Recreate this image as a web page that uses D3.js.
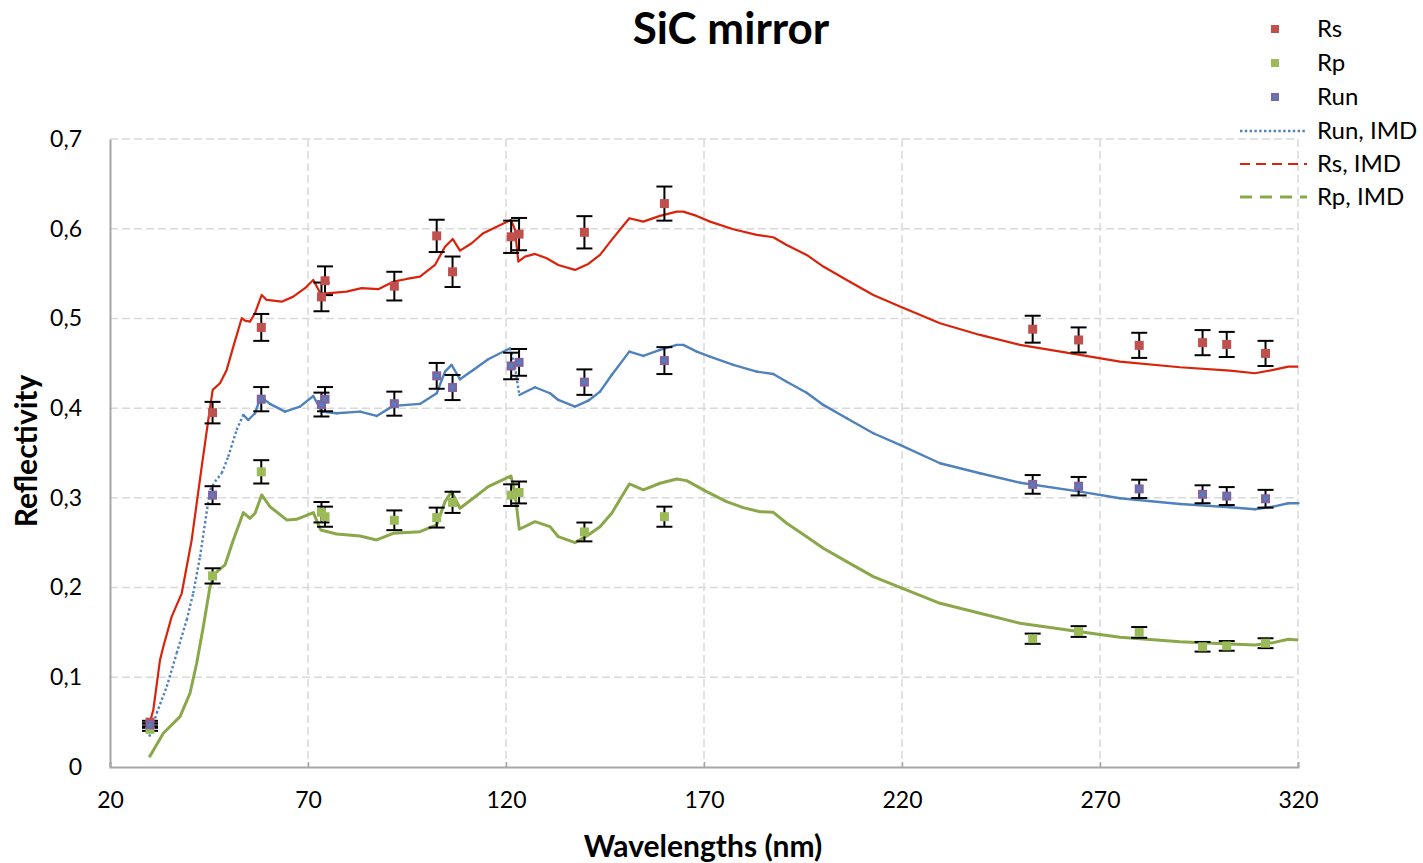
<!DOCTYPE html>
<html>
<head>
<meta charset="utf-8">
<script src="https://cdn.jsdelivr.net/npm/d3@7"></script>
<style>
  body { margin: 0; background: #fff; }
  svg text { font-family: Lato, "Open Sans", sans-serif; fill: #000; }
</style>
</head>
<body>
<div class="chart"></div>
<script>

// measured wavelengths (nm)
var wavelengths = [30.1, 45.9, 58.2, 73.4, 74.3, 91.8, 102.5, 106.5, 121.3, 123.3, 139.8, 160.0, 253.0, 264.6, 279.9, 295.9, 302.0, 311.8];

var rsValues  = [0.050, 0.395, 0.490, 0.524, 0.542, 0.536, 0.592, 0.552, 0.591, 0.594, 0.596, 0.628, 0.488, 0.476, 0.470, 0.473, 0.471, 0.461];
var rsErr     = [0.0015, 0.012, 0.015, 0.016, 0.016, 0.016, 0.018, 0.017, 0.018, 0.018, 0.018, 0.019, 0.015, 0.014, 0.014, 0.014, 0.014, 0.014];

var rpValues  = [0.042, 0.213, 0.329, 0.284, 0.279, 0.275, 0.278, 0.295, 0.303, 0.306, 0.262, 0.279, 0.143, 0.151, 0.150, 0.134, 0.135, 0.138];
var rpErr     = [0.0017, 0.0085, 0.013, 0.0114, 0.0112, 0.011, 0.0111, 0.0118, 0.0121, 0.0122, 0.0105, 0.0112, 0.0057, 0.006, 0.006, 0.0054, 0.0054, 0.0055];

var runValues = [0.047, 0.303, 0.410, 0.404, 0.410, 0.405, 0.436, 0.423, 0.447, 0.451, 0.429, 0.453, 0.315, 0.313, 0.310, 0.304, 0.302, 0.299];
var runErr    = [0.0016, 0.010, 0.0135, 0.0133, 0.0135, 0.0134, 0.0144, 0.014, 0.0148, 0.0149, 0.0142, 0.015, 0.0104, 0.0103, 0.0102, 0.010, 0.010, 0.0099];

// IMD simulations [nm, reflectivity]
var rsIMD = [[30.28,0.0532],[30.93,0.0635],[32.63,0.1193],[33.46,0.1341],[35.58,0.1676],[38.11,0.1936],[40.63,0.2531],[43.16,0.3348],[44.82,0.3868],[45.93,0.4203],[47.78,0.4278],[49.47,0.4426],[51.14,0.4686],[53.26,0.5002],[54.09,0.4976],[55.35,0.4964],[56.62,0.5058],[58.31,0.5262],[59.57,0.5206],[61.24,0.5198],[63.36,0.5187],[66.29,0.5243],[69.24,0.5337],[71.34,0.5429],[73.21,0.5273],[79.75,0.5299],[83.54,0.5337],[87.75,0.5326],[91.54,0.5410],[94.92,0.5440],[98.28,0.5466],[102.07,0.5596],[104.60,0.5800],[106.54,0.5886],[108.38,0.5756],[111.34,0.5838],[114.27,0.5950],[117.65,0.6023],[121.26,0.6098],[122.27,0.5987],[123.11,0.5633],[124.80,0.5689],[127.32,0.5719],[130.28,0.5671],[133.21,0.5596],[137.42,0.5541],[140.78,0.5608],[143.74,0.5708],[146.69,0.5875],[151.14,0.6117],[154.67,0.6079],[158.89,0.6143],[163.11,0.6191],[164.77,0.6191],[168.16,0.6143],[171.52,0.6079],[177.40,0.5994],[183.31,0.5931],[187.50,0.5905],[190.88,0.5819],[195.93,0.5708],[200.13,0.5578],[206.04,0.5429],[212.75,0.5262],[219.49,0.5132],[229.60,0.4946],[239.70,0.4816],[249.80,0.4705],[264.95,0.4593],[275.05,0.4518],[290.20,0.4456],[302.83,0.4418],[309.14,0.4389],[313.76,0.4426],[317.55,0.4463],[320.08,0.4463]];

var runIMD = [[29.92,0.0338],[31.79,0.0599],[34.32,0.0895],[36.84,0.1268],[39.37,0.1639],[41.01,0.1936],[42.73,0.2344],[43.99,0.2717],[45.25,0.3088],[46.52,0.3181],[48.21,0.3274],[49.85,0.3459],[51.97,0.3757],[53.66,0.3924],[54.92,0.3868],[56.62,0.3943],[58.06,0.4128],[60.40,0.4047],[64.19,0.3961],[67.98,0.4017],[71.34,0.4136],[73.46,0.3961],[77.22,0.3943],[83.13,0.3961],[87.35,0.3913],[91.52,0.4025],[98.28,0.4047],[102.50,0.4166],[104.60,0.4407],[106.26,0.4482],[108.38,0.4322],[111.72,0.4426],[115.51,0.4545],[121.01,0.4668],[122.27,0.4463],[123.36,0.4147],[127.32,0.4233],[131.11,0.4166],[133.21,0.4091],[137.42,0.4017],[140.78,0.4083],[143.74,0.4184],[146.69,0.4370],[151.14,0.4630],[154.67,0.4582],[158.89,0.4649],[163.11,0.4705],[164.77,0.4705],[168.16,0.4630],[171.52,0.4574],[177.40,0.4482],[183.31,0.4407],[187.50,0.4381],[190.88,0.4295],[195.93,0.4172],[200.13,0.4036],[206.04,0.3887],[212.75,0.3720],[219.49,0.3590],[229.60,0.3386],[239.70,0.3274],[249.80,0.3169],[264.95,0.3069],[275.05,0.2996],[290.20,0.2932],[302.83,0.2895],[309.14,0.2873],[313.76,0.2902],[317.55,0.2940],[320.08,0.2940]];

var rpIMD = [[29.92,0.0108],[33.46,0.0376],[37.68,0.0561],[40.20,0.0822],[41.89,0.1156],[43.56,0.1564],[45.25,0.2010],[46.52,0.2159],[49.04,0.2252],[51.14,0.2531],[53.66,0.2835],[55.35,0.2772],[56.62,0.2828],[58.31,0.3032],[60.40,0.2902],[64.60,0.2754],[67.12,0.2761],[71.34,0.2835],[73.21,0.2642],[77.22,0.2598],[83.13,0.2575],[87.35,0.2531],[91.52,0.2605],[98.28,0.2623],[102.50,0.2698],[104.60,0.2958],[106.26,0.3069],[108.38,0.2884],[111.72,0.2996],[115.51,0.3125],[121.26,0.3244],[122.27,0.3051],[123.36,0.2650],[127.32,0.2735],[131.11,0.2679],[133.21,0.2567],[137.42,0.2501],[140.78,0.2586],[143.74,0.2679],[146.69,0.2828],[151.14,0.3155],[154.67,0.3088],[158.89,0.3163],[163.11,0.3211],[165.61,0.3192],[170.66,0.3069],[175.71,0.2958],[179.90,0.2891],[184.14,0.2846],[187.50,0.2839],[190.88,0.2717],[195.93,0.2567],[200.13,0.2438],[206.04,0.2289],[212.75,0.2122],[219.49,0.2003],[229.60,0.1825],[239.70,0.1713],[249.80,0.1602],[264.95,0.1508],[275.05,0.1446],[290.20,0.1397],[302.83,0.1371],[309.14,0.1360],[313.76,0.1386],[317.55,0.1424],[320.08,0.1416]];

var xTicks = [20, 70, 120, 170, 220, 270, 320];
var yTicks = [0, 0.1, 0.2, 0.3, 0.4, 0.5, 0.6, 0.7];

var legendLabels = ["Rs", "Rp", "Run", "Run, IMD", "Rs, IMD", "Rp, IMD"];

function wrapper(){

  var w = 1423, h = 863;

  var svg = d3.select("div.chart")
              .append("svg")
              .attr("width", w)
              .attr("height", h);

  var plot = {left: 110, right: 1298, top: 139, bottom: 767};

  var x = d3.scaleLinear().domain([20, 320]).range([plot.left, plot.right]);
  var y = d3.scaleLinear().domain([0, 0.7]).range([plot.bottom, plot.top]);

  var colors = {
    rs: "#c0504d", rp: "#9bbb59", run: "#8064a2", runIn: "#4f81bd",
    rsLine: "#d9230b", runLine: "#4f81bd", rpLine: "#8aa84a"
  };

  //gridlines
  var grid = svg.append("g");
  grid.selectAll(".hgrid")
      .data(yTicks.slice(1))
      .enter()
      .append("line")
        .attr("x1", plot.left).attr("x2", plot.right)
        .attr("y1", d => y(d)).attr("y2", d => y(d))
        .attr("stroke", "#d9d9d9")
        .attr("stroke-width", 1.5)
        .attr("stroke-dasharray", "8,4");
  grid.selectAll(".vgrid")
      .data(xTicks.slice(1))
      .enter()
      .append("line")
        .attr("x1", d => x(d)).attr("x2", d => x(d))
        .attr("y1", plot.top).attr("y2", plot.bottom)
        .attr("stroke", "#d9d9d9")
        .attr("stroke-width", 1.5)
        .attr("stroke-dasharray", "8,4");

  //axes
  var xAxis = svg.append("g")
      .attr("transform", `translate(0,${plot.bottom})`)
      .call(d3.axisBottom(x).tickValues(xTicks).tickSize(-5).tickPadding(25));
  var yAxis = svg.append("g")
      .attr("transform", `translate(${plot.left},0)`)
      .call(d3.axisLeft(y).tickValues(yTicks).tickSize(0).tickPadding(28)
               .tickFormat(d => d === 0 ? "0" : d3.format(".1f")(d).replace(".", ",")));

  [xAxis, yAxis].forEach(function(a){
    a.select(".domain").attr("stroke", "#a6a6a6").attr("stroke-width", 2);
    a.selectAll(".tick line").attr("stroke", "#a6a6a6").attr("stroke-width", 1.5);
    a.selectAll(".tick text").attr("font-size", 23).attr("font-family", "Lato, sans-serif").attr("fill", "#000");
  });

  //IMD lines
  var line = d3.line().x(d => x(d[0])).y(d => y(d[1]));

  svg.append("path")
     .attr("d", line(rpIMD))
     .attr("fill", "none")
     .attr("stroke", colors.rpLine)
     .attr("stroke-width", 3)
     .attr("stroke-linejoin", "round");

  svg.append("path")
     .attr("d", line(rsIMD))
     .attr("fill", "none")
     .attr("stroke", colors.rsLine)
     .attr("stroke-width", 2.2)
     .attr("stroke-linejoin", "round");

  // run IMD: excel restarts the dot pattern per segment, so long/steep segments show dotted
  function dotted(d){
    var steep = Math.abs(y(d[1][1]) - y(d[0][1])) > 3 * Math.abs(x(d[1][0]) - x(d[0][0]));
    return d[0][0] < 53.5 || steep;
  }
  svg.append("g")
     .selectAll("line")
     .data(d3.pairs(runIMD))
     .enter()
     .append("line")
       .attr("x1", d => x(d[0][0])).attr("y1", d => y(d[0][1]))
       .attr("x2", d => x(d[1][0])).attr("y2", d => y(d[1][1]))
       .attr("stroke", colors.runLine)
       .attr("stroke-width", 2.4)
       .attr("stroke-linecap", d => dotted(d) ? "butt" : "round")
       .attr("stroke-dasharray", d => dotted(d) ? "2.4,2.4" : null);

  //measured points with error bars
  var series = [
    {vals: rsValues, err: rsErr, fill: colors.rs},
    {vals: rpValues, err: rpErr, fill: colors.rp},
    {vals: runValues, err: runErr, fill: colors.run, inner: colors.runIn}
  ];

  series.forEach(function(s){
    var pts = wavelengths.map((wl, i) => ({wl: wl, v: s.vals[i], e: s.err[i]}));
    var g = svg.append("g");
    var bars = g.selectAll(".bar").data(pts).enter().append("g");
    bars.append("line")
        .attr("x1", d => x(d.wl)).attr("x2", d => x(d.wl))
        .attr("y1", d => y(d.v - d.e)).attr("y2", d => y(d.v + d.e))
        .attr("stroke", "#000").attr("stroke-width", 2);
    bars.append("line")
        .attr("x1", d => x(d.wl) - 8).attr("x2", d => x(d.wl) + 8)
        .attr("y1", d => y(d.v - d.e)).attr("y2", d => y(d.v - d.e))
        .attr("stroke", "#000").attr("stroke-width", 2);
    bars.append("line")
        .attr("x1", d => x(d.wl) - 8).attr("x2", d => x(d.wl) + 8)
        .attr("y1", d => y(d.v + d.e)).attr("y2", d => y(d.v + d.e))
        .attr("stroke", "#000").attr("stroke-width", 2);
    g.selectAll(".mk").data(pts).enter().append("rect")
        .attr("x", d => x(d.wl) - 4.5).attr("y", d => y(d.v) - 4.5)
        .attr("width", 9).attr("height", 9)
        .attr("fill", s.fill);
    if(s.inner){
      g.selectAll(".mkin").data(pts).enter().append("rect")
          .attr("x", d => x(d.wl) - 2).attr("y", d => y(d.v) - 2)
          .attr("width", 4).attr("height", 4)
          .attr("fill", s.inner);
    }
  });

  //title and axis titles
  svg.append("text")
     .attr("x", 731).attr("y", 44)
     .attr("text-anchor", "middle")
     .attr("font-size", 44).attr("font-weight", "bold")
     .text("SiC mirror");

  svg.append("text")
     .attr("x", 703).attr("y", 857)
     .attr("text-anchor", "middle")
     .attr("font-size", 30).attr("font-weight", "bold")
     .text("Wavelengths (nm)");

  svg.append("text")
     .attr("transform", "translate(37,451) rotate(-90)")
     .attr("text-anchor", "middle")
     .attr("font-size", 30).attr("font-weight", "bold")
     .text("Reflectivity");

  //legend
  var legendY = [29, 63, 97, 131, 164, 197];
  var legend = svg.append("g");
  legendLabels.forEach(function(lab, i){
    var ly = legendY[i];
    if(i < 3){
      var s = series[i];
      legend.append("rect").attr("x", 1271).attr("y", ly - 4).attr("width", 8).attr("height", 8).attr("fill", s.fill);
      if(s.inner) legend.append("rect").attr("x", 1273).attr("y", ly - 2).attr("width", 4).attr("height", 4).attr("fill", s.inner);
    } else {
      var st = [
        {c: colors.runLine, wd: 2.4, dash: "2.4,2.4"},
        {c: colors.rsLine, wd: 2.2, dash: "10,6"},
        {c: colors.rpLine, wd: 3, dash: "12,8"}
      ][i - 3];
      legend.append("line")
            .attr("x1", 1240).attr("x2", 1307)
            .attr("y1", ly).attr("y2", ly)
            .attr("stroke", st.c).attr("stroke-width", st.wd)
            .attr("stroke-dasharray", st.dash);
    }
    legend.append("text")
          .attr("x", 1317).attr("y", ly)
          .attr("dy", "0.35em")
          .attr("font-size", 24)
          .text(lab);
  });
}
window.onload = wrapper;
</script>
</body>
</html>
